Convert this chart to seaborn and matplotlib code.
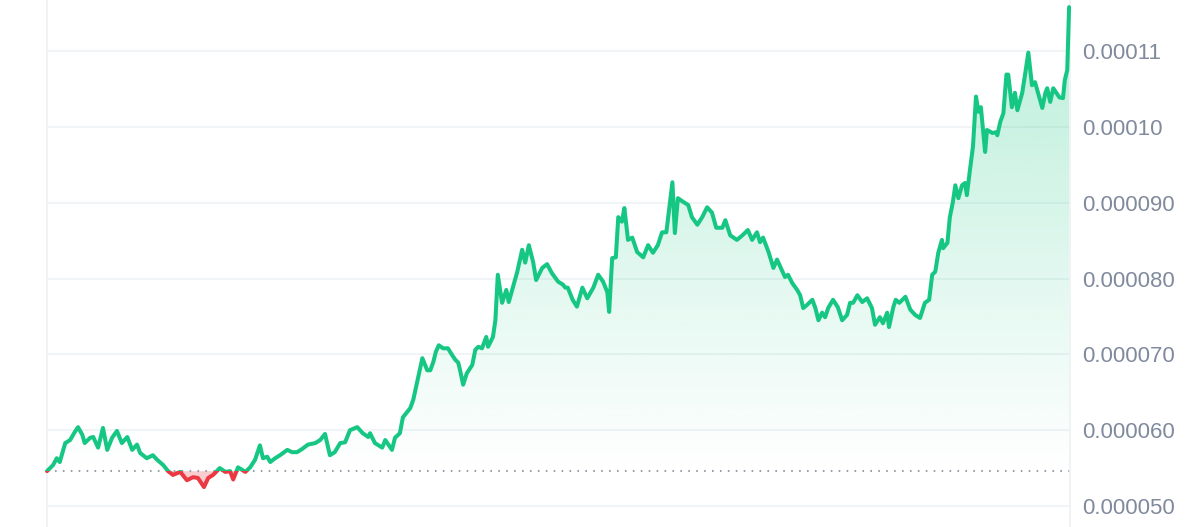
import numpy as np
import pandas as pd
import seaborn as sns
import matplotlib.pyplot as plt
from matplotlib.patches import Rectangle
from matplotlib.colors import to_rgb

# hours since start of the 7 day window
hours = [0.0, 1.0, 1.6, 2.1, 3.0, 3.8, 4.6, 5.1, 5.8, 6.2, 7.1, 7.6, 8.4, 9.2, 9.9,
         10.7, 11.5, 12.3, 13.2, 14.0, 14.8, 15.3, 16.4, 17.4, 18.1, 19.1, 19.9, 20.7,
         21.9, 23.0, 24.0, 24.8, 25.8, 26.5, 27.3, 28.4, 29.3, 30.1, 30.6, 31.4, 32.6,
         33.4, 34.2, 35.0, 35.5, 36.2, 36.7, 37.5, 38.3, 39.5, 40.3, 41.1, 41.9, 42.9,
         44.1, 44.9, 45.7, 46.5, 47.3, 48.2, 49.0, 49.8, 51.0, 51.9, 52.8, 53.1, 53.9,
         55.1, 55.6, 56.7, 57.2, 58.0, 58.5, 59.7, 60.2, 60.8, 61.7, 62.5, 63.0, 63.5,
         63.9, 64.4, 65.1, 65.9, 66.6, 67.1, 67.6, 67.9, 68.4, 69.0, 69.9, 70.4, 70.9,
         71.5, 72.2, 72.5, 73.3, 73.7, 74.1, 74.8, 75.5, 75.9, 76.6, 77.3, 78.1, 78.6,
         79.2, 79.9, 80.4, 81.4, 82.2, 83.0, 84.0, 84.8, 85.2, 85.6, 86.4, 87.1, 88.0,
         88.8, 89.8, 90.6, 91.4, 92.1, 92.4, 92.9, 93.5, 93.9, 94.5, 94.9, 95.5, 96.2,
         97.0, 98.0, 98.8, 99.6, 100.4, 101.1, 101.8, 102.8, 103.2, 103.7, 104.6, 105.4,
         106.0, 106.9, 107.7, 108.5, 109.3, 110.0, 111.0, 111.5, 112.3, 113.4, 114.3,
         115.2, 115.9, 116.7, 117.2, 117.7, 118.6, 119.4, 120.0, 120.8, 121.3, 121.8,
         122.5, 123.3, 123.8, 124.3, 124.9, 125.8, 126.3, 126.8, 127.4, 127.9, 128.4,
         129.2, 130.0, 130.7, 131.5, 132.0, 132.5, 133.2, 134.0, 134.8, 135.6, 136.1,
         136.9, 137.4, 138.1, 138.4, 139.1, 139.5, 140.1, 141.1, 141.9, 142.7, 143.5,
         144.3, 145.0, 145.5, 146.0, 146.5, 147.1, 147.3, 148.0, 148.4, 148.9, 149.3,
         149.8, 150.4, 150.9, 151.2, 151.7, 152.2, 152.7, 153.1, 153.5, 154.2, 154.5,
         155.4, 156.0, 156.2, 156.7, 157.2, 157.7, 158.0, 158.6, 159.1, 159.5, 160.3,
         160.8, 161.3, 161.9, 162.4, 162.9, 163.6, 164.1, 164.4, 164.9, 165.4, 165.9,
         166.4, 167.0, 167.3, 167.7, 168.0]

# price in millionths of a dollar
price_e6 = [54.6, 55.4, 56.3, 55.8, 58.3, 58.7, 59.8, 60.4, 59.4, 58.3, 59.0, 59.1, 57.7,
            60.3, 57.4, 59.0, 59.9, 58.3, 59.1, 57.4, 58.1, 57.0, 56.3, 56.7, 56.1, 55.4,
            54.6, 54.1, 54.5, 53.4, 53.8, 53.7, 52.5, 53.7, 54.1, 55.0, 54.5, 54.6, 53.5,
            55.1, 54.5, 55.1, 56.1, 58.0, 56.3, 56.5, 55.8, 56.3, 56.7, 57.4, 57.1, 57.1,
            57.5, 58.1, 58.3, 58.7, 59.5, 56.7, 57.1, 58.3, 58.4, 60.0, 60.4, 59.6, 59.1,
            59.6, 58.3, 57.7, 58.7, 57.4, 59.0, 59.6, 61.7, 62.9, 64.0, 66.2, 69.5, 67.9,
            67.9, 69.0, 70.3, 71.2, 70.8, 70.8, 69.9, 69.3, 68.9, 67.9, 66.0, 67.5, 68.6,
            70.6, 71.0, 70.8, 72.3, 71.0, 72.3, 74.5, 80.5, 76.8, 78.5, 76.9, 78.9, 80.9,
            83.8, 82.1, 84.4, 82.2, 79.8, 81.4, 81.9, 80.7, 79.6, 79.2, 78.8, 78.8, 77.2,
            76.3, 78.8, 77.4, 78.8, 80.5, 79.6, 78.2, 75.6, 82.7, 82.8, 88.1, 87.5, 89.3,
            85.1, 85.4, 83.5, 82.8, 84.4, 83.4, 84.4, 86.1, 86.1, 92.7, 86.0, 90.6, 90.1,
            89.7, 88.1, 87.1, 88.1, 89.4, 88.7, 86.7, 86.7, 87.7, 85.7, 85.1, 85.7, 86.4,
            85.1, 86.1, 84.8, 85.4, 83.5, 81.4, 82.5, 81.1, 80.2, 80.5, 79.4, 78.5, 77.8,
            76.1, 76.5, 77.2, 76.1, 74.5, 75.5, 74.9, 76.1, 77.2, 76.2, 74.5, 75.2, 76.8,
            76.8, 77.8, 76.9, 77.4, 76.1, 73.9, 74.9, 74.1, 75.5, 73.6, 76.2, 77.2, 76.8,
            77.6, 75.9, 75.2, 74.8, 76.8, 77.2, 80.5, 80.9, 83.4, 85.1, 84.0, 84.7, 88.1,
            90.1, 92.3, 90.6, 92.3, 92.6, 91.0, 94.3, 97.4, 104.0, 102.0, 102.6, 96.7,
            99.6, 99.2, 99.3, 98.9, 100.7, 101.8, 106.9, 106.9, 102.6, 104.5, 102.2, 104.5,
            107.1, 109.8, 105.5, 105.9, 104.5, 102.5, 104.5, 105.1, 103.3, 105.1, 104.5,
            103.9, 103.8, 106.2, 107.5, 115.8]

tick_values = [0.00005, 0.00006, 0.00007, 0.00008, 0.00009, 0.00010, 0.00011]
tick_labels = ['0.000050', '0.000060', '0.000070', '0.000080', '0.000090', '0.00010', '0.00011']

GREEN = '#16c784'
RED = '#ea3943'

sns.set_theme(style='white')
plt.rcParams['font.family'] = ['Liberation Sans', 'DejaVu Sans']

df = pd.DataFrame({'hour': hours, 'price': np.array(price_e6) * 1e-6})
base = df['price'].iloc[0]
x0, x1 = df['hour'].min(), df['hour'].max()
y_lo, y_hi = 0.00004723, 0.00011674

fig = plt.figure(figsize=(12, 5.27), dpi=100)
ax = fig.add_axes([47 / 1200, 0, (1070 - 47) / 1200, 1])

# green gradient under the part above the open price
poly = ax.fill_between(df['hour'], df['price'], base, facecolor='none', edgecolor='none')
top = df['price'].max()
n = 256
grad = np.zeros((n, 1, 4))
grad[:, 0, :3] = to_rgb(GREEN)
grad[:, 0, 3] = np.linspace(0, 0.3, n)
im = ax.imshow(grad, extent=[x0, x1, base, top], origin='lower', aspect='auto', zorder=1)
im.set_clip_path(poly.get_paths()[0], transform=ax.transData)

# pink fill below the open price
ax.fill_between(df['hour'], df['price'], base, where=df['price'] < base,
                interpolate=True, facecolor=RED, alpha=0.25, edgecolor='none', zorder=1)

sns.lineplot(data=df, x='hour', y='price', color=GREEN, lw=2.9, ax=ax, zorder=3)
sns.lineplot(data=df, x='hour', y='price', color=RED, lw=2.9, ax=ax, zorder=3)
green_line, red_line = ax.lines[-2], ax.lines[-1]
for ln in (green_line, red_line):
    ln.set_solid_joinstyle('round')
    ln.set_solid_capstyle('round')
green_line.set_clip_path(Rectangle((x0 - 5, base), x1 - x0 + 10, 1, transform=ax.transData))
red_line.set_clip_path(Rectangle((x0 - 5, 0), x1 - x0 + 10, base, transform=ax.transData))

ax.axhline(base, color='#9aa0aa', lw=1.5, ls=(0, (0.8, 3.0)), zorder=2)

ax.set_xlim(x0, x1 + 0.15)
ax.set_ylim(y_lo, y_hi)
ax.set_yticks(tick_values)
ax.set_yticklabels(tick_labels)
ax.set_xticks([])
ax.yaxis.tick_right()
ax.yaxis.grid(True, color='#eff2f5', lw=1.2)
ax.set_axisbelow(True)
ax.tick_params(axis='y', length=0, pad=9, labelsize=16, labelcolor='#808a9d')
ax.set_xlabel('')
ax.set_ylabel('')
for side in ('top', 'bottom'):
    ax.spines[side].set_visible(False)
for side in ('left', 'right'):
    ax.spines[side].set_color('#eff2f5')
    ax.spines[side].set_linewidth(1.3)

fig.savefig('out.png', dpi=100, facecolor='white')
